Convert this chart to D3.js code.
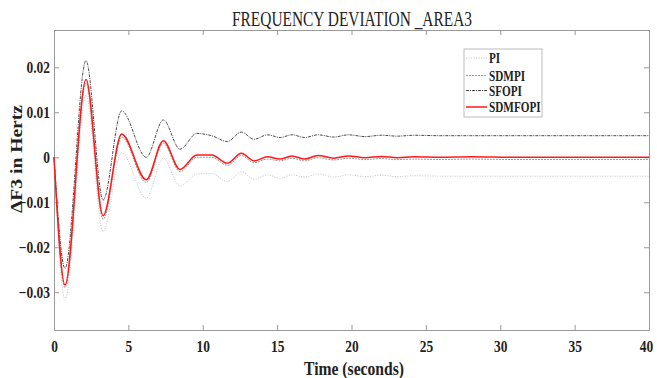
<!DOCTYPE html>
<html>
<head>
<meta charset="utf-8">
<script src="https://cdnjs.cloudflare.com/ajax/libs/d3/7.8.5/d3.min.js"></script>
<style>
body { margin: 0; background: #fff; }
svg text { font-family: "Liberation Serif", "Times New Roman", serif; fill: #222; }
.tick text { font-weight: bold; font-size: 16px; }
</style>
</head>
<body>
<svg width="657" height="378"></svg>
<script>
// time points (s) at the extrema of the responses
var time = [0, 0.74, 2.15, 3.3, 4.55, 6.2, 7.35, 8.47, 9.6, 10.6, 11.65, 12.6, 13.45, 14.35, 15.2,
            16.0, 16.85, 17.75, 18.8, 19.8, 20.9, 22.0, 23.1, 24.2, 26, 28, 31, 35, 40];

var piVals = [0, -0.0316, 0.0138, -0.0165, 0.0010, -0.0091, -0.0002, -0.0064, -0.0037, -0.0036, -0.0054,
              -0.0032, -0.0049, -0.0039, -0.0047, -0.0039, -0.0044, -0.0037, -0.0044, -0.0039, -0.0043,
              -0.0040, -0.0043, -0.0041, -0.0042, -0.0042, -0.0042, -0.0042, -0.0042];
var sdmpiVals = [0, -0.0290, 0.0165, -0.0138, 0.0045, -0.0056, 0.0031, -0.0032, 0.0000, 0.0000, -0.0018,
                 0.0004, -0.0012, -0.0004, -0.0008, -0.0002, -0.0008, -0.0001, -0.0006, -0.0002, -0.0005,
                 -0.0003, -0.0005, -0.0004, -0.0005, -0.0004, -0.0005, -0.0005, -0.0005];
var sfopiVals = [0, -0.0247, 0.0215, -0.0095, 0.0103, 0.0000, 0.0083, 0.0018, 0.0053, 0.0048, 0.0035,
                 0.0056, 0.0040, 0.0050, 0.0044, 0.0050, 0.0044, 0.0050, 0.0045, 0.0050, 0.0046,
                 0.0049, 0.0047, 0.0049, 0.0048, 0.0048, 0.0048, 0.0048, 0.0048];
var sdmfopiVals = [0, -0.0284, 0.0173, -0.0130, 0.0052, -0.0050, 0.0037, -0.0027, 0.0005, 0.0005, -0.0013,
                   0.0009, -0.0008, 0.0001, -0.0004, 0.0003, -0.0004, 0.0004, -0.0002, 0.0003, -0.0001,
                   0.0002, -0.0001, 0.0001, 0, 0.0001, 0, 0, 0];

var seriesNames = ["PI", "SDMPI", "SFOPI", "SDMFOPI"];
var xTicks = [0, 5, 10, 15, 20, 25, 30, 35, 40];
var yTicks = [-0.03, -0.02, -0.01, 0, 0.01, 0.02];

var margin = {top: 30, right: 8, bottom: 48, left: 54},
    width = 657 - margin.left - margin.right,
    height = 378 - margin.top - margin.bottom;

var x = d3.scaleLinear().domain([0, 40]).range([0, width]);
var y = d3.scaleLinear().domain([-0.0384, 0.0283]).range([height, 0]);

var svg = d3.select("svg");
var chart = svg.append("g").attr("transform", "translate(" + margin.left + "," + margin.top + ")");

// series styles
var styles = [
  {color: "#c4c4c4", width: 1, dash: "1,1.5"},
  {color: "#9a9a9a", width: 1, dash: "2,1"},
  {color: "#4a4a4a", width: 1, dash: "3,1,1,1"},
  {color: "#ff1a1a", width: 1.5, dash: null}
];
var allVals = [piVals, sdmpiVals, sfopiVals, sdmfopiVals];

var line = d3.line()
  .x(function(d) { return x(d[0]); })
  .y(function(d) { return y(d[1]); })
  .curve(d3.curveMonotoneX);

// squeeze text horizontally, the original figure is narrower than a normal Times face
function squeeze(sel, k) {
  sel.each(function() {
    var w = this.getComputedTextLength();
    d3.select(this).attr("textLength", w * k).attr("lengthAdjust", "spacingAndGlyphs");
  });
}

// axes with inward ticks, box style
function styleAxis(g) {
  g.select(".domain").attr("stroke", "#999");
  g.selectAll(".tick line").attr("stroke", "#999");
}
var xAxisG = chart.append("g")
  .attr("transform", "translate(0," + height + ")")
  .call(d3.axisBottom(x).tickValues(xTicks).tickSize(-5).tickSizeOuter(0).tickPadding(11))
  .call(styleAxis);
chart.append("g")
  .call(d3.axisTop(x).tickValues(xTicks).tickSize(-5).tickSizeOuter(0).tickFormat(""))
  .call(styleAxis);
chart.append("g")
  .call(d3.axisLeft(y).tickValues(yTicks).tickSize(-5).tickSizeOuter(0).tickPadding(4)
    .tickFormat(function(d) { return d === 0 ? "0" : d3.format(".2f")(d); }))
  .call(styleAxis);
chart.append("g")
  .attr("transform", "translate(" + width + ",0)")
  .call(d3.axisRight(y).tickValues(yTicks).tickSize(-5).tickSizeOuter(0).tickFormat(""))
  .call(styleAxis);

chart.selectAll(".tick text").attr("fill", "#222").call(squeeze, 0.84);
// keep the last x label inside the page
xAxisG.selectAll(".tick text").filter(function(d) { return d === 40; }).attr("dx", -3);

// curves
allVals.forEach(function(vals, i) {
  var pts = time.map(function(t, j) { return [t, vals[j]]; });
  chart.append("path")
    .datum(pts)
    .attr("fill", "none")
    .attr("stroke", styles[i].color)
    .attr("stroke-width", styles[i].width)
    .attr("stroke-dasharray", styles[i].dash)
    .attr("d", line);
});

// title and labels
svg.append("text")
  .attr("x", 352).attr("y", 26)
  .attr("text-anchor", "middle")
  .attr("font-size", 20)
  .attr("textLength", 240).attr("lengthAdjust", "spacingAndGlyphs")
  .text("FREQUENCY DEVIATION _AREA3");

svg.append("text")
  .attr("x", 354).attr("y", 375)
  .attr("text-anchor", "middle")
  .attr("font-size", 18).attr("font-weight", "bold")
  .attr("textLength", 100).attr("lengthAdjust", "spacingAndGlyphs")
  .text("Time (seconds)");

svg.append("text")
  .attr("transform", "translate(22,159) rotate(-90)")
  .attr("text-anchor", "middle")
  .attr("font-size", 17).attr("font-weight", "bold")
  .attr("textLength", 108).attr("lengthAdjust", "spacingAndGlyphs")
  .text("\u0394F3 in Hertz");

// legend
var legend = svg.append("g").attr("transform", "translate(464,49)");
legend.append("rect")
  .attr("width", 78).attr("height", 68)
  .attr("fill", "#fff").attr("stroke", "#bbb");
var rowY = [9, 26.5, 41.5, 58];
seriesNames.forEach(function(name, i) {
  legend.append("line")
    .attr("x1", 2).attr("x2", 23)
    .attr("y1", rowY[i]).attr("y2", rowY[i])
    .attr("stroke", styles[i].color)
    .attr("stroke-width", styles[i].width)
    .attr("stroke-dasharray", styles[i].dash);
  legend.append("text")
    .attr("x", 25).attr("y", rowY[i] + 5)
    .attr("font-size", 14).attr("font-weight", "bold")
    .text(name)
    .call(squeeze, 0.8);
});
</script>
</body>
</html>
